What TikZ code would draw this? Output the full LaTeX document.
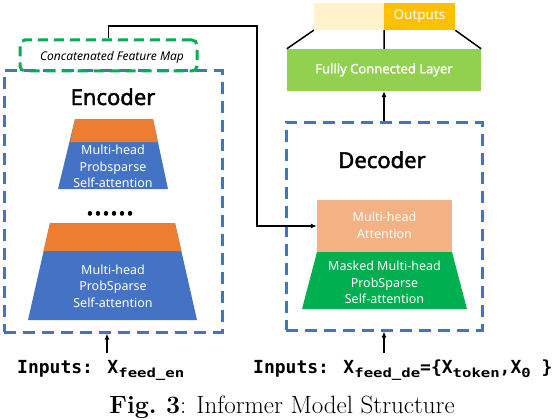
\documentclass[tikz,border=0pt]{standalone}
\usepackage{fontspec}
\usetikzlibrary{arrows.meta}
\newfontfamily\nsans{Noto Sans}
\newfontfamily\nsansbf{Noto Sans}[FakeBold=2]
\newfontfamily\nsansbfs{Noto Sans}[FakeBold=1.5]
\newfontfamily\dmono{DejaVu Sans Mono}
\newfontfamily\dmonosub{DejaVu Sans Mono}[FakeStretch=1.25]
\newcommand{\msub}[1]{\raisebox{-4pt}{\dmonosub\bfseries\fontsize{12.5}{14}\selectfont #1}}
\definecolor{cblue}{HTML}{4472C4}
\definecolor{corange}{HTML}{ED7D31}
\definecolor{cgreen}{HTML}{00B050}
\definecolor{csalmon}{HTML}{F4B183}
\definecolor{clgreen}{HTML}{92D050}
\definecolor{ccream}{HTML}{FFF2CC}
\definecolor{cgold}{HTML}{FFC000}
\begin{document}
\begin{tikzpicture}[x=1pt,y=-1pt,
  dashblue/.style={draw=cblue,line width=3pt,dash pattern=on 12pt off 7pt,inner sep=0pt},
  dashgreen/.style={draw=cgreen,line width=3pt,dash pattern=on 10pt off 6pt,rounded corners=5pt,inner sep=0pt},
  boxtext/.style={text=white,align=center,font=\nsans\fontsize{12.5}{16.5}\selectfont,inner sep=0pt},
  titletext/.style={font=\nsansbf\fontsize{22}{24}\selectfont,anchor=base,inner sep=0pt},
  conn/.style={line width=1.5pt,-{Latex[length=6pt,width=5pt]}},
  plainline/.style={line width=1.5pt},
  inputtext/.style={anchor=base west,inner sep=0pt,font=\dmono\bfseries\fontsize{18}{20}\selectfont}]
\useasboundingbox (0,0) rectangle (554,420);

% ---------------- Encoder ----------------
\node[dashblue,minimum width=218pt,minimum height=261pt] (enc) at (113,201.5) {};
\node[dashgreen,minimum width=177pt,minimum height=31pt] (cfm) at (108.5,55.5) {};
\node[inner sep=0pt,font=\nsans\itshape\fontsize{12}{14}\selectfont] (cfmt) at (112,57) {Concatenated Feature Map};
\node[titletext] (enct) at (113,105) {Encoder};

% first encoder layer
\fill[cblue] (75,119) -- (153,119) -- (168,189) -- (58,189) -- cycle;
\fill[corange] (75,119) -- (153,119) -- (157.9,142) -- (70.1,142) -- cycle;
\node[boxtext] (e1t) at (113,166.5) {Multi-head\\Probsparse\\Self-attention};

\node[anchor=base,inner sep=0pt,font=\nsansbf\fontsize{30}{30}\selectfont] (dots) at (110,215) {......};

% second encoder layer
\fill[cblue] (50,223) -- (175,223) -- (197,320) -- (28,320) -- cycle;
\fill[corange] (50,223) -- (175,223) -- (181.4,251) -- (43.6,251) -- cycle;
\node[boxtext] (e2t) at (113,286) {Multi-head\\ProbSparse\\Self-attention};

% encoder inputs
\node[inputtext] (ein) at (17,373) {Inputs: X\msub{feed\_en}};
\coordinate (einarrow) at (107,353);
\draw[conn] (einarrow) -- (einarrow |- enc.south);

% ---------------- Decoder ----------------
\node[dashblue,minimum width=196pt,minimum height=208pt] (dec) at (384,226) {};
\node[titletext] (dect) at (382,168) {Decoder};
\node[fill=csalmon,minimum width=135pt,minimum height=52pt,inner sep=0pt] (att) at (384.5,226) {};
\node[boxtext] (attt) at (384.5,225.5) {Multi-head\\Attention};
\fill[cgreen] (317,252) -- (452,252) -- (467,309) -- (302,309) -- cycle;
\node[boxtext] (mt) at (384.5,282.5) {Masked Multi-head\\ProbSparse\\Self-attention};

\node[inputtext] (din) at (253,373) {Inputs: X\msub{feed\_de}=\{X\msub{token},X\msub{0} \}};
\coordinate (dinarrow) at (384,353);
\draw[conn] (dinarrow) -- (dinarrow |- dec.south);

% ---------------- FC and outputs ----------------
\node[fill=clgreen,minimum width=194pt,minimum height=42pt,inner sep=0pt] (fc) at (384,70) {};
\node[inner sep=0pt,text=white,font=\nsansbfs\fontsize{13}{15}\selectfont] (fct) at (384,70) {Fullly Connected Layer};
\draw[conn] (dec.north) -- (fc.south);

\node[fill=ccream,minimum width=70pt,minimum height=27pt,inner sep=0pt] (o1) at (349,16.5) {};
\node[fill=cgold,minimum width=71pt,minimum height=27pt,inner sep=0pt,text=white,font=\nsans\fontsize{13.5}{15}\selectfont] (o2) at (419.5,16.5) {Outputs};
\draw[plainline] (o1.south west) -- (fc.north west);
\draw[plainline] (o2.south east) -- (fc.north east);
\draw[plainline] (o1.south east) -- (fc.north);

% ---------------- Connector from feature map ----------------
\coordinate (turn) at (257,26);
\draw[conn] (cfm.north) |- (turn) |- (att.west);

% ---------------- Caption ----------------
\node[anchor=base,inner sep=0pt,font=\fontsize{25}{28}\selectfont] (cap) at (282,413) {\textbf{Fig.~3}: Informer Model Structure};
\end{tikzpicture}
\end{document}
